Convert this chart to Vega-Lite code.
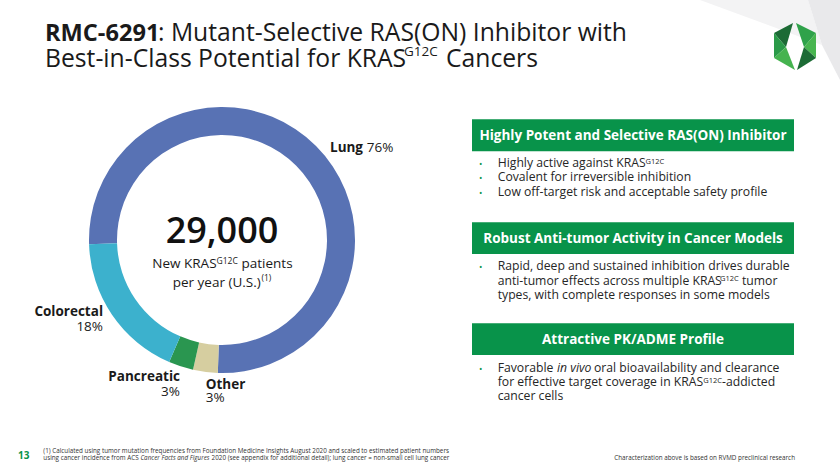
{
  "$schema": "https://vega.github.io/schema/vega-lite/v6.json",
  "width": 840,
  "height": 473,
  "autosize": {"type": "fit", "contains": "padding"},
  "padding": 0,
  "background": "white",
  "config": {
    "view": {"stroke": null},
    "mark": {"font": "Open Sans"},
    "text": {"baseline": "alphabetic", "align": "left", "font": "Open Sans", "color": "#262626"}
  },
  "resolve": {"scale": {"color": "independent", "shape": "independent"}},
  "data": {"values": [{}]},
  "layer": [
    {
      "data": {"values": [{"part": "a"}, {"part": "b"}]},
      "mark": {"type": "point", "filled": true, "opacity": 1, "size": 10000, "strokeWidth": 0},
      "encoding": {
        "x": {"datum": 790, "type": "quantitative", "scale": {"domain": [0, 840], "nice": false, "zero": false}, "axis": null},
        "y": {"datum": 40, "type": "quantitative", "scale": {"domain": [0, 473], "nice": false, "zero": false, "reverse": true}, "axis": null},
        "shape": {"field": "part", "type": "nominal", "legend": null, "scale": {"domain": ["a", "b"], "range": ["M-1.8,-0.8L0.36,-0.8L0.64,0.1Z", "M0.36,-0.8L1,-0.8L1,0.8L0.64,0.1Z"]}},
        "color": {"field": "part", "type": "nominal", "legend": null, "scale": {"domain": ["a", "b"], "range": ["#f3f3f4", "#e9e9eb"]}}
      }
    },
    {
      "data": {"values": [{"facet": "LA"}, {"facet": "LB"}, {"facet": "LC"}, {"facet": "RA"}, {"facet": "RB"}, {"facet": "RC"}]},
      "mark": {"type": "point", "filled": true, "opacity": 1, "size": 2304, "strokeWidth": 0},
      "encoding": {
        "x": {"datum": 795, "type": "quantitative", "scale": {"domain": [0, 840], "nice": false, "zero": false}, "axis": null},
        "y": {"datum": 46.5, "type": "quantitative", "scale": {"domain": [0, 473], "nice": false, "zero": false, "reverse": true}, "axis": null},
        "shape": {"field": "facet", "type": "nominal", "legend": null, "scale": {"domain": ["LA", "LB", "LC", "RA", "RB", "RC"], "range": [
          "M-0.083,-0.979L-0.875,-0.5625L-0.375,0.021Z",
          "M-0.875,-0.5625L-0.875,0.479L-0.375,0.021Z",
          "M-0.875,0.479L0,0.979L-0.375,0.021Z",
          "M0.042,-0.979L0.875,-0.5625L0.375,0.021Z",
          "M0.875,-0.5625L0.875,0.479L0.375,0.021Z",
          "M0.875,0.479L0.083,0.979L0.375,0.021Z"
        ]}},
        "color": {"field": "facet", "type": "nominal", "legend": null, "scale": {"domain": ["LA", "LB", "LC", "RA", "RB", "RC"], "range": ["#1c6b35", "#2a9a48", "#45b34f", "#2fa24a", "#47b54f", "#1c6b35"]}}
      }
    },
    {
      "data": {"values": [
        {"site": "Lung", "share": 76, "ord": 1},
        {"site": "Other", "share": 3, "ord": 2},
        {"site": "Pancreatic", "share": 3, "ord": 3},
        {"site": "Colorectal", "share": 18, "ord": 4}
      ]},
      "mark": {"type": "arc", "outerRadius": 133, "innerRadius": 105},
      "encoding": {
        "x": {"datum": 222, "type": "quantitative", "scale": {"domain": [0, 840], "nice": false, "zero": false}, "axis": null},
        "y": {"datum": 240, "type": "quantitative", "scale": {"domain": [0, 473], "nice": false, "zero": false, "reverse": true}, "axis": null},
        "theta": {"field": "share", "type": "quantitative", "stack": true, "scale": {"range": [4.681, 10.964]}},
        "order": {"field": "ord", "type": "quantitative"},
        "color": {"field": "site", "type": "nominal", "legend": null, "scale": {"domain": ["Lung", "Other", "Pancreatic", "Colorectal"], "range": ["#5872b4", "#d6cea0", "#2a9650", "#3cb1cd"]}}
      }
    },
    {
      "mark": {"type": "rect", "color": "#08934a"},
      "encoding": {
        "x": {"datum": 472, "type": "quantitative", "scale": {"domain": [0, 840], "nice": false, "zero": false}, "axis": null},
        "x2": {"datum": 794},
        "y": {"datum": 119.3, "type": "quantitative", "scale": {"domain": [0, 473], "nice": false, "zero": false, "reverse": true}, "axis": null},
        "y2": {"datum": 151.3}
      }
    },
    {
      "mark": {"type": "rect", "color": "#08934a"},
      "encoding": {
        "x": {"datum": 472, "type": "quantitative", "scale": {"domain": [0, 840], "nice": false, "zero": false}, "axis": null},
        "x2": {"datum": 794},
        "y": {"datum": 222.3, "type": "quantitative", "scale": {"domain": [0, 473], "nice": false, "zero": false, "reverse": true}, "axis": null},
        "y2": {"datum": 254}
      }
    },
    {
      "mark": {"type": "rect", "color": "#08934a"},
      "encoding": {
        "x": {"datum": 472, "type": "quantitative", "scale": {"domain": [0, 840], "nice": false, "zero": false}, "axis": null},
        "x2": {"datum": 794},
        "y": {"datum": 323.3, "type": "quantitative", "scale": {"domain": [0, 473], "nice": false, "zero": false, "reverse": true}, "axis": null},
        "y2": {"datum": 355}
      }
    },
    {"mark": {"type": "text", "text": "RMC-6291", "fontSize": 23.6, "fontWeight": "bold", "color": "#1a1a1a"},
     "encoding": {"x": {"datum": 45, "type": "quantitative", "scale": {"domain": [0, 840], "nice": false, "zero": false}, "axis": null}, "y": {"datum": 41, "type": "quantitative", "scale": {"domain": [0, 473], "nice": false, "zero": false, "reverse": true}, "axis": null}}},
    {"mark": {"type": "text", "text": ": Mutant-Selective RAS(ON) Inhibitor with", "fontSize": 24.7, "color": "#1a1a1a"},
     "encoding": {"x": {"datum": 158, "type": "quantitative", "scale": {"domain": [0, 840], "nice": false, "zero": false}, "axis": null}, "y": {"datum": 41, "type": "quantitative", "scale": {"domain": [0, 473], "nice": false, "zero": false, "reverse": true}, "axis": null}}},
    {"mark": {"type": "text", "text": "Best-in-Class Potential for KRAS", "fontSize": 24.7, "color": "#1a1a1a"},
     "encoding": {"x": {"datum": 45, "type": "quantitative", "scale": {"domain": [0, 840], "nice": false, "zero": false}, "axis": null}, "y": {"datum": 67, "type": "quantitative", "scale": {"domain": [0, 473], "nice": false, "zero": false, "reverse": true}, "axis": null}}},
    {"mark": {"type": "text", "text": "G12C", "fontSize": 13.5, "color": "#1a1a1a"},
     "encoding": {"x": {"datum": 404, "type": "quantitative", "scale": {"domain": [0, 840], "nice": false, "zero": false}, "axis": null}, "y": {"datum": 55.5, "type": "quantitative", "scale": {"domain": [0, 473], "nice": false, "zero": false, "reverse": true}, "axis": null}}},
    {"mark": {"type": "text", "text": "Cancers", "fontSize": 24.7, "color": "#1a1a1a"},
     "encoding": {"x": {"datum": 446, "type": "quantitative", "scale": {"domain": [0, 840], "nice": false, "zero": false}, "axis": null}, "y": {"datum": 67, "type": "quantitative", "scale": {"domain": [0, 473], "nice": false, "zero": false, "reverse": true}, "axis": null}}},
    {"mark": {"type": "text", "text": "29,000", "align": "center", "fontSize": 36, "fontWeight": 600, "color": "#111111"},
     "encoding": {"x": {"datum": 222, "type": "quantitative", "scale": {"domain": [0, 840], "nice": false, "zero": false}, "axis": null}, "y": {"datum": 243, "type": "quantitative", "scale": {"domain": [0, 473], "nice": false, "zero": false, "reverse": true}, "axis": null}}},
    {"mark": {"type": "text", "text": "New KRAS", "fontSize": 13.5, "color": "#1a1a1a"},
     "encoding": {"x": {"datum": 152.3, "type": "quantitative", "scale": {"domain": [0, 840], "nice": false, "zero": false}, "axis": null}, "y": {"datum": 268, "type": "quantitative", "scale": {"domain": [0, 473], "nice": false, "zero": false, "reverse": true}, "axis": null}}},
    {"mark": {"type": "text", "text": "G12C", "fontSize": 8.5, "color": "#1a1a1a"},
     "encoding": {"x": {"datum": 216.5, "type": "quantitative", "scale": {"domain": [0, 840], "nice": false, "zero": false}, "axis": null}, "y": {"datum": 264.3, "type": "quantitative", "scale": {"domain": [0, 473], "nice": false, "zero": false, "reverse": true}, "axis": null}}},
    {"mark": {"type": "text", "text": "patients", "fontSize": 13.5, "color": "#1a1a1a"},
     "encoding": {"x": {"datum": 241.5, "type": "quantitative", "scale": {"domain": [0, 840], "nice": false, "zero": false}, "axis": null}, "y": {"datum": 268, "type": "quantitative", "scale": {"domain": [0, 473], "nice": false, "zero": false, "reverse": true}, "axis": null}}},
    {"mark": {"type": "text", "text": "per year (U.S.)", "fontSize": 13.5, "color": "#1a1a1a"},
     "encoding": {"x": {"datum": 172.7, "type": "quantitative", "scale": {"domain": [0, 840], "nice": false, "zero": false}, "axis": null}, "y": {"datum": 286.5, "type": "quantitative", "scale": {"domain": [0, 473], "nice": false, "zero": false, "reverse": true}, "axis": null}}},
    {"mark": {"type": "text", "text": "(1)", "fontSize": 8.5, "color": "#1a1a1a"},
     "encoding": {"x": {"datum": 261.5, "type": "quantitative", "scale": {"domain": [0, 840], "nice": false, "zero": false}, "axis": null}, "y": {"datum": 280.8, "type": "quantitative", "scale": {"domain": [0, 473], "nice": false, "zero": false, "reverse": true}, "axis": null}}},
    {"mark": {"type": "text", "text": "Lung", "fontSize": 13.5, "fontWeight": "bold", "color": "#1a1a1a"},
     "encoding": {"x": {"datum": 330, "type": "quantitative", "scale": {"domain": [0, 840], "nice": false, "zero": false}, "axis": null}, "y": {"datum": 152.3, "type": "quantitative", "scale": {"domain": [0, 473], "nice": false, "zero": false, "reverse": true}, "axis": null}}},
    {"mark": {"type": "text", "text": "76%", "fontSize": 13.5, "color": "#1a1a1a"},
     "encoding": {"x": {"datum": 366.7, "type": "quantitative", "scale": {"domain": [0, 840], "nice": false, "zero": false}, "axis": null}, "y": {"datum": 152.3, "type": "quantitative", "scale": {"domain": [0, 473], "nice": false, "zero": false, "reverse": true}, "axis": null}}},
    {"mark": {"type": "text", "text": "Colorectal", "align": "right", "fontSize": 13.5, "fontWeight": "bold", "color": "#1a1a1a"},
     "encoding": {"x": {"datum": 103, "type": "quantitative", "scale": {"domain": [0, 840], "nice": false, "zero": false}, "axis": null}, "y": {"datum": 316, "type": "quantitative", "scale": {"domain": [0, 473], "nice": false, "zero": false, "reverse": true}, "axis": null}}},
    {"mark": {"type": "text", "text": "18%", "align": "right", "fontSize": 13.5, "color": "#1a1a1a"},
     "encoding": {"x": {"datum": 103, "type": "quantitative", "scale": {"domain": [0, 840], "nice": false, "zero": false}, "axis": null}, "y": {"datum": 330.7, "type": "quantitative", "scale": {"domain": [0, 473], "nice": false, "zero": false, "reverse": true}, "axis": null}}},
    {"mark": {"type": "text", "text": "Pancreatic", "align": "right", "fontSize": 13.5, "fontWeight": "bold", "color": "#1a1a1a"},
     "encoding": {"x": {"datum": 180, "type": "quantitative", "scale": {"domain": [0, 840], "nice": false, "zero": false}, "axis": null}, "y": {"datum": 380.7, "type": "quantitative", "scale": {"domain": [0, 473], "nice": false, "zero": false, "reverse": true}, "axis": null}}},
    {"mark": {"type": "text", "text": "3%", "align": "right", "fontSize": 13.5, "color": "#1a1a1a"},
     "encoding": {"x": {"datum": 180, "type": "quantitative", "scale": {"domain": [0, 840], "nice": false, "zero": false}, "axis": null}, "y": {"datum": 395.5, "type": "quantitative", "scale": {"domain": [0, 473], "nice": false, "zero": false, "reverse": true}, "axis": null}}},
    {"mark": {"type": "text", "text": "Other", "fontSize": 13.5, "fontWeight": "bold", "color": "#1a1a1a"},
     "encoding": {"x": {"datum": 205.7, "type": "quantitative", "scale": {"domain": [0, 840], "nice": false, "zero": false}, "axis": null}, "y": {"datum": 389, "type": "quantitative", "scale": {"domain": [0, 473], "nice": false, "zero": false, "reverse": true}, "axis": null}}},
    {"mark": {"type": "text", "text": "3%", "fontSize": 13.5, "color": "#1a1a1a"},
     "encoding": {"x": {"datum": 205.7, "type": "quantitative", "scale": {"domain": [0, 840], "nice": false, "zero": false}, "axis": null}, "y": {"datum": 402, "type": "quantitative", "scale": {"domain": [0, 473], "nice": false, "zero": false, "reverse": true}, "axis": null}}},
    {"mark": {"type": "text", "text": "Highly Potent and Selective RAS(ON) Inhibitor", "align": "center", "fontSize": 13.5, "fontWeight": "bold", "color": "white"},
     "encoding": {"x": {"datum": 633, "type": "quantitative", "scale": {"domain": [0, 840], "nice": false, "zero": false}, "axis": null}, "y": {"datum": 140, "type": "quantitative", "scale": {"domain": [0, 473], "nice": false, "zero": false, "reverse": true}, "axis": null}}},
    {"mark": {"type": "text", "text": "Robust Anti-tumor Activity in Cancer Models", "align": "center", "fontSize": 13.5, "fontWeight": "bold", "color": "white"},
     "encoding": {"x": {"datum": 633, "type": "quantitative", "scale": {"domain": [0, 840], "nice": false, "zero": false}, "axis": null}, "y": {"datum": 243, "type": "quantitative", "scale": {"domain": [0, 473], "nice": false, "zero": false, "reverse": true}, "axis": null}}},
    {"mark": {"type": "text", "text": "Attractive PK/ADME Profile", "align": "center", "fontSize": 13.5, "fontWeight": "bold", "color": "white"},
     "encoding": {"x": {"datum": 633, "type": "quantitative", "scale": {"domain": [0, 840], "nice": false, "zero": false}, "axis": null}, "y": {"datum": 344, "type": "quantitative", "scale": {"domain": [0, 473], "nice": false, "zero": false, "reverse": true}, "axis": null}}},
    {"mark": {"type": "text", "text": ["•", "•", "•"], "lineHeight": 14.5, "align": "center", "fontSize": 9, "color": "#08934a"},
     "encoding": {"x": {"datum": 480.7, "type": "quantitative", "scale": {"domain": [0, 840], "nice": false, "zero": false}, "axis": null}, "y": {"datum": 166.7, "type": "quantitative", "scale": {"domain": [0, 473], "nice": false, "zero": false, "reverse": true}, "axis": null}}},
    {"mark": {"type": "text", "text": "•", "align": "center", "fontSize": 9, "color": "#08934a"},
     "encoding": {"x": {"datum": 480.7, "type": "quantitative", "scale": {"domain": [0, 840], "nice": false, "zero": false}, "axis": null}, "y": {"datum": 270, "type": "quantitative", "scale": {"domain": [0, 473], "nice": false, "zero": false, "reverse": true}, "axis": null}}},
    {"mark": {"type": "text", "text": "•", "align": "center", "fontSize": 9, "color": "#08934a"},
     "encoding": {"x": {"datum": 480.7, "type": "quantitative", "scale": {"domain": [0, 840], "nice": false, "zero": false}, "axis": null}, "y": {"datum": 371.7, "type": "quantitative", "scale": {"domain": [0, 473], "nice": false, "zero": false, "reverse": true}, "axis": null}}},
    {"mark": {"type": "text", "text": "Highly active against KRAS", "fontSize": 12.2},
     "encoding": {"x": {"datum": 497.7, "type": "quantitative", "scale": {"domain": [0, 840], "nice": false, "zero": false}, "axis": null}, "y": {"datum": 166.7, "type": "quantitative", "scale": {"domain": [0, 473], "nice": false, "zero": false, "reverse": true}, "axis": null}}},
    {"mark": {"type": "text", "text": "G12C", "fontSize": 7.5},
     "encoding": {"x": {"datum": 645.5, "type": "quantitative", "scale": {"domain": [0, 840], "nice": false, "zero": false}, "axis": null}, "y": {"datum": 163.5, "type": "quantitative", "scale": {"domain": [0, 473], "nice": false, "zero": false, "reverse": true}, "axis": null}}},
    {"mark": {"type": "text", "text": ["Covalent for irreversible inhibition", "Low off-target risk and acceptable safety profile"], "lineHeight": 14.5, "fontSize": 12.2},
     "encoding": {"x": {"datum": 497.7, "type": "quantitative", "scale": {"domain": [0, 840], "nice": false, "zero": false}, "axis": null}, "y": {"datum": 181.2, "type": "quantitative", "scale": {"domain": [0, 473], "nice": false, "zero": false, "reverse": true}, "axis": null}}},
    {"mark": {"type": "text", "text": "Rapid, deep and sustained inhibition drives durable", "fontSize": 12.2},
     "encoding": {"x": {"datum": 497.7, "type": "quantitative", "scale": {"domain": [0, 840], "nice": false, "zero": false}, "axis": null}, "y": {"datum": 270, "type": "quantitative", "scale": {"domain": [0, 473], "nice": false, "zero": false, "reverse": true}, "axis": null}}},
    {"mark": {"type": "text", "text": "anti-tumor effects across multiple KRAS", "fontSize": 12.2},
     "encoding": {"x": {"datum": 497.7, "type": "quantitative", "scale": {"domain": [0, 840], "nice": false, "zero": false}, "axis": null}, "y": {"datum": 284.6, "type": "quantitative", "scale": {"domain": [0, 473], "nice": false, "zero": false, "reverse": true}, "axis": null}}},
    {"mark": {"type": "text", "text": "G12C", "fontSize": 7.5},
     "encoding": {"x": {"datum": 720, "type": "quantitative", "scale": {"domain": [0, 840], "nice": false, "zero": false}, "axis": null}, "y": {"datum": 281.3, "type": "quantitative", "scale": {"domain": [0, 473], "nice": false, "zero": false, "reverse": true}, "axis": null}}},
    {"mark": {"type": "text", "text": "tumor", "fontSize": 12.2},
     "encoding": {"x": {"datum": 742, "type": "quantitative", "scale": {"domain": [0, 840], "nice": false, "zero": false}, "axis": null}, "y": {"datum": 284.6, "type": "quantitative", "scale": {"domain": [0, 473], "nice": false, "zero": false, "reverse": true}, "axis": null}}},
    {"mark": {"type": "text", "text": "types, with complete responses in some models", "fontSize": 12.2},
     "encoding": {"x": {"datum": 497.7, "type": "quantitative", "scale": {"domain": [0, 840], "nice": false, "zero": false}, "axis": null}, "y": {"datum": 299.2, "type": "quantitative", "scale": {"domain": [0, 473], "nice": false, "zero": false, "reverse": true}, "axis": null}}},
    {"mark": {"type": "text", "text": "Favorable", "fontSize": 12.2},
     "encoding": {"x": {"datum": 497.7, "type": "quantitative", "scale": {"domain": [0, 840], "nice": false, "zero": false}, "axis": null}, "y": {"datum": 371.7, "type": "quantitative", "scale": {"domain": [0, 473], "nice": false, "zero": false, "reverse": true}, "axis": null}}},
    {"mark": {"type": "text", "text": "in vivo", "fontSize": 12.2, "fontStyle": "italic"},
     "encoding": {"x": {"datum": 557, "type": "quantitative", "scale": {"domain": [0, 840], "nice": false, "zero": false}, "axis": null}, "y": {"datum": 371.7, "type": "quantitative", "scale": {"domain": [0, 473], "nice": false, "zero": false, "reverse": true}, "axis": null}}},
    {"mark": {"type": "text", "text": "oral bioavailability and clearance", "fontSize": 12.2},
     "encoding": {"x": {"datum": 594, "type": "quantitative", "scale": {"domain": [0, 840], "nice": false, "zero": false}, "axis": null}, "y": {"datum": 371.7, "type": "quantitative", "scale": {"domain": [0, 473], "nice": false, "zero": false, "reverse": true}, "axis": null}}},
    {"mark": {"type": "text", "text": "for effective target coverage in KRAS", "fontSize": 12.2},
     "encoding": {"x": {"datum": 497.7, "type": "quantitative", "scale": {"domain": [0, 840], "nice": false, "zero": false}, "axis": null}, "y": {"datum": 386, "type": "quantitative", "scale": {"domain": [0, 473], "nice": false, "zero": false, "reverse": true}, "axis": null}}},
    {"mark": {"type": "text", "text": "G12C", "fontSize": 7.5},
     "encoding": {"x": {"datum": 703.3, "type": "quantitative", "scale": {"domain": [0, 840], "nice": false, "zero": false}, "axis": null}, "y": {"datum": 382.7, "type": "quantitative", "scale": {"domain": [0, 473], "nice": false, "zero": false, "reverse": true}, "axis": null}}},
    {"mark": {"type": "text", "text": "-addicted", "fontSize": 12.2},
     "encoding": {"x": {"datum": 722, "type": "quantitative", "scale": {"domain": [0, 840], "nice": false, "zero": false}, "axis": null}, "y": {"datum": 386, "type": "quantitative", "scale": {"domain": [0, 473], "nice": false, "zero": false, "reverse": true}, "axis": null}}},
    {"mark": {"type": "text", "text": "cancer cells", "fontSize": 12.2},
     "encoding": {"x": {"datum": 497.7, "type": "quantitative", "scale": {"domain": [0, 840], "nice": false, "zero": false}, "axis": null}, "y": {"datum": 400.3, "type": "quantitative", "scale": {"domain": [0, 473], "nice": false, "zero": false, "reverse": true}, "axis": null}}},
    {"mark": {"type": "text", "text": "13", "fontSize": 10, "fontWeight": "bold", "color": "#08934a"},
     "encoding": {"x": {"datum": 18, "type": "quantitative", "scale": {"domain": [0, 840], "nice": false, "zero": false}, "axis": null}, "y": {"datum": 458.5, "type": "quantitative", "scale": {"domain": [0, 473], "nice": false, "zero": false, "reverse": true}, "axis": null}}},
    {"mark": {"type": "text", "text": "(1) Calculated using tumor mutation frequencies from Foundation Medicine Insights August 2020 and scaled to estimated patient numbers", "fontSize": 6.3, "color": "#333333"},
     "encoding": {"x": {"datum": 43.3, "type": "quantitative", "scale": {"domain": [0, 840], "nice": false, "zero": false}, "axis": null}, "y": {"datum": 452.8, "type": "quantitative", "scale": {"domain": [0, 473], "nice": false, "zero": false, "reverse": true}, "axis": null}}},
    {"mark": {"type": "text", "text": "using cancer incidence from ACS", "fontSize": 6.3, "color": "#333333"},
     "encoding": {"x": {"datum": 43.3, "type": "quantitative", "scale": {"domain": [0, 840], "nice": false, "zero": false}, "axis": null}, "y": {"datum": 459.8, "type": "quantitative", "scale": {"domain": [0, 473], "nice": false, "zero": false, "reverse": true}, "axis": null}}},
    {"mark": {"type": "text", "text": "Cancer Facts and Figures", "fontSize": 6.3, "fontStyle": "italic", "color": "#333333"},
     "encoding": {"x": {"datum": 140.4, "type": "quantitative", "scale": {"domain": [0, 840], "nice": false, "zero": false}, "axis": null}, "y": {"datum": 459.8, "type": "quantitative", "scale": {"domain": [0, 473], "nice": false, "zero": false, "reverse": true}, "axis": null}}},
    {"mark": {"type": "text", "text": "2020 (see appendix for additional detail); lung cancer = non-small cell lung cancer", "fontSize": 6.3, "color": "#333333"},
     "encoding": {"x": {"datum": 211.6, "type": "quantitative", "scale": {"domain": [0, 840], "nice": false, "zero": false}, "axis": null}, "y": {"datum": 459.8, "type": "quantitative", "scale": {"domain": [0, 473], "nice": false, "zero": false, "reverse": true}, "axis": null}}},
    {"mark": {"type": "text", "text": "Characterization above is based on RVMD preclinical research", "align": "right", "fontSize": 6.3, "color": "#333333"},
     "encoding": {"x": {"datum": 795, "type": "quantitative", "scale": {"domain": [0, 840], "nice": false, "zero": false}, "axis": null}, "y": {"datum": 459.5, "type": "quantitative", "scale": {"domain": [0, 473], "nice": false, "zero": false, "reverse": true}, "axis": null}}}
  ]
}
